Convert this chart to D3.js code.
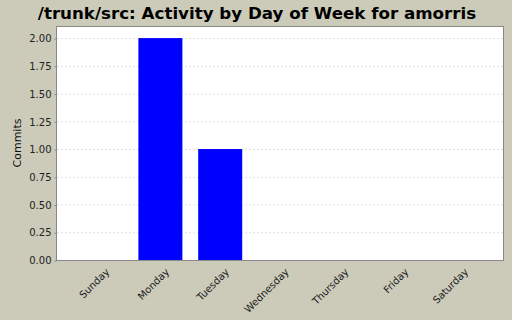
<!DOCTYPE html>
<html lang="en">
<head>
    <meta charset="UTF-8">
    <title>Activity by Day of Week</title>
    <script src="https://cdn.jsdelivr.net/npm/d3@7"></script>
    <style type="text/css">
        body { margin: 0; background: #cccbb9; }
        .axis text {
            font-family: "DejaVu Sans", sans-serif;
            font-size: 10px;
            fill: #222;
        }
        .axis path, .axis line { stroke: #888; }
    </style>
</head>
<body>
<script>
    const days = ["Sunday", "Monday", "Tuesday", "Wednesday", "Thursday", "Friday", "Saturday"];
    const commits = [0, 2, 1, 0, 0, 0, 0];
    const yTicks = [0, 0.25, 0.5, 0.75, 1, 1.25, 1.5, 1.75, 2];

    let w = 512, h = 320;
    let plotLeft = 57, plotRight = 503, plotTop = 27, plotBottom = 260;

    let svg = d3.select("body").append("svg")
        .attr("width", w)
        .attr("height", h);

    svg.append("rect")
        .attr("width", w).attr("height", h)
        .attr("fill", "#cccbb9");

    svg.append("text")
        .attr("x", 257)
        .attr("y", 19)
        .attr("text-anchor", "middle")
        .style("font-family", "DejaVu Sans, sans-serif")
        .style("font-weight", "bold")
        .style("font-size", "16.7px")
        .text("/trunk/src: Activity by Day of Week for amorris");

    let xScale = d3.scaleBand()
        .domain(days)
        .range([plotLeft, plotRight])
        .paddingInner(0.264)
        .paddingOuter(0.361);

    let yScale = d3.scaleLinear()
        .domain([0, 2.1])
        .range([plotBottom, plotTop]);

    // plot background
    svg.append("rect")
        .attr("x", plotLeft).attr("y", plotTop)
        .attr("width", plotRight - plotLeft).attr("height", plotBottom - plotTop)
        .attr("fill", "white");

    // gridlines
    svg.selectAll("line.grid")
        .data(yTicks)
        .enter()
        .append("line")
        .attr("class", "grid")
        .attr("x1", plotLeft).attr("x2", plotRight)
        .attr("y1", d => yScale(d) + 0.5)
        .attr("y2", d => yScale(d) + 0.5)
        .attr("stroke", "#e0e0e0")
        .attr("stroke-dasharray", "2,2");

    svg.selectAll("rect.bar")
        .data(days)
        .enter()
        .append("rect")
        .attr("class", "bar")
        .attr("x", d => xScale(d))
        .attr("y", (d, i) => yScale(commits[i]))
        .attr("width", xScale.bandwidth())
        .attr("height", (d, i) => plotBottom - yScale(commits[i]))
        .attr("fill", "#0000ff");

    // plot border
    svg.append("rect")
        .attr("x", plotLeft - 0.5).attr("y", plotTop - 0.5)
        .attr("width", plotRight - plotLeft + 1).attr("height", plotBottom - plotTop + 1)
        .attr("fill", "none")
        .attr("stroke", "#888");

    let yAxis = d3.axisLeft(yScale)
        .tickValues(yTicks)
        .tickFormat(d3.format(".2f"))
        .tickSize(2)
        .tickPadding(3);

    svg.append("g")
        .attr("class", "axis")
        .attr("transform", "translate(" + (plotLeft - 0.5) + ",0.5)")
        .call(yAxis)
        .call(g => g.select(".domain").remove());

    let xAxis = d3.axisBottom(xScale).tickSize(0).tickPadding(0);

    svg.append("g")
        .attr("class", "axis")
        .attr("transform", "translate(0," + plotBottom + ")")
        .call(xAxis)
        .call(g => g.select(".domain").remove())
        .selectAll("text")
        .attr("transform", "translate(7,10) rotate(-45)")
        .attr("dy", "0.35em")
        .attr("y", 0)
        .style("text-anchor", "end");

    svg.append("text")
        .attr("transform", "translate(21,143) rotate(-90)")
        .attr("text-anchor", "middle")
        .style("font-family", "DejaVu Sans, sans-serif")
        .style("font-size", "11px")
        .attr("fill", "#111")
        .text("Commits");
</script>
</body>
</html>
